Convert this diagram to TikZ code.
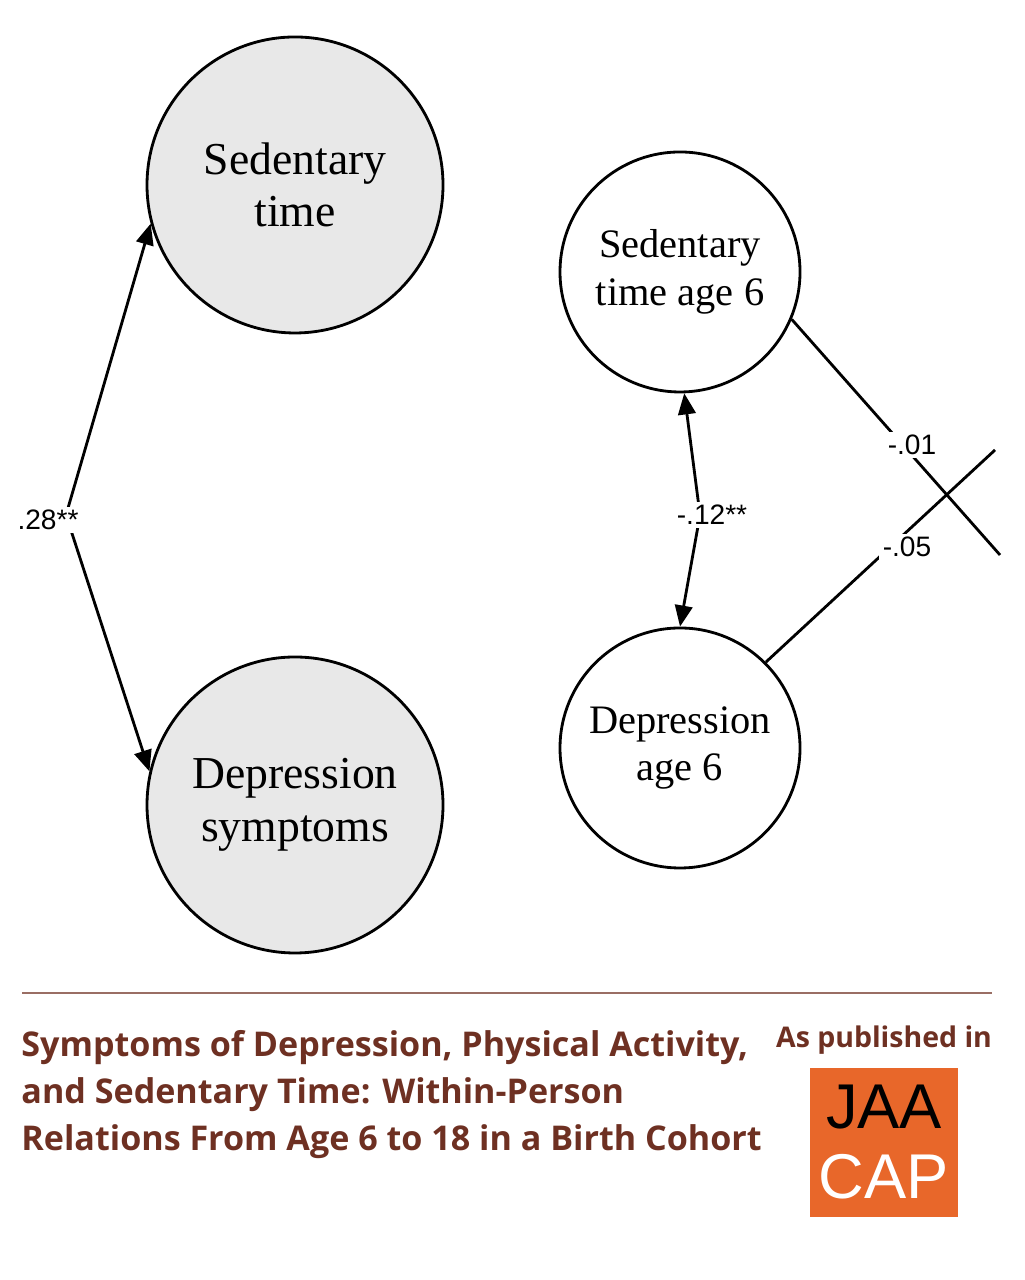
\documentclass[tikz,border=0pt]{standalone}
\usepackage{fontspec}
\setmainfont{Liberation Serif}
\newfontfamily\labfont{Liberation Sans}
\newfontfamily\capfont{Open Sans}
\usetikzlibrary{arrows.meta}
\definecolor{brownish}{HTML}{6E3022}
\definecolor{jorange}{HTML}{E8672A}
\tikzset{
  bigvar/.style={circle,draw,thick,fill=gray!18,minimum size=2.96cm,align=center,font=\fontsize{13}{15}\selectfont},
  smallvar/.style={circle,draw,thick,fill=white,minimum size=2.4cm,align=center,font=\fontsize{11.5}{13.5}\selectfont},
  coef/.style={font=\labfont\fontsize{8}{9}\selectfont,fill=white,inner sep=1pt},
  path/.style={thick,-{Triangle[length=6pt,width=5pt]}}
}
\begin{document}
\begin{tikzpicture}
    \useasboundingbox (0,0) rectangle (10.24,12.8);
    % Variables
    \node[bigvar] (sed) at (2.95,10.95) {Sedentary\\time};
    \node[bigvar] (dep) at (2.95,4.75) {Depression\\symptoms};
    \node[smallvar] (sed6) at (6.8,10.08) {Sedentary\\time age 6};
    \node[smallvar] (dep6) at (6.8,5.32) {Depression\\age 6};
    \coordinate (bend) at (0.66,7.65);
    \coordinate (mid) at (7.0,7.65);
    \coordinate (endA) at (10.0,7.25);
    \coordinate (endB) at (9.95,8.3);

    % Correlations
    \draw[path] (bend) -- (sed.195);
    \draw[path] (bend) -- (dep.167);
    \node[coef] at (0.48,7.6) {.28**};
    \draw[path] (mid) -- (sed6.-88);
    \draw[path] (mid) -- (dep6.90);
    \node[coef] at (7.12,7.65) {-.12**};

    % Cross-lagged paths
    \draw[thick] (sed6.-23) -- (endA);
    \draw[thick] (dep6.45) -- (endB);
    \node[coef] at (9.12,8.35) {-.01};
    \node[coef] at (9.07,7.33) {-.05};

    % Caption
    \draw[brownish!70,thin] (0.22,2.87) -- (9.92,2.87);
    \node[anchor=north west,align=left,text=brownish,font=\capfont\bfseries\fontsize{9.7}{13.4}\selectfont] (title) at (0.09,2.62)
        {Symptoms of Depression, Physical Activity,\\and Sedentary Time: Within-Person\\Relations From Age 6 to 18 in a Birth Cohort};
    \node[text=brownish,font=\capfont\bfseries\fontsize{8.1}{10}\selectfont] (pub) at (8.84,2.4) {As published in};
    \fill[jorange] (8.1,0.63) rectangle (9.58,2.12);
    \node[font=\labfont\fontsize{18}{18}\selectfont] (jaa) at (8.84,1.73) {JAA};
    \node[text=white,font=\labfont\fontsize{18}{18}\selectfont] (cap) at (8.84,1.03) {CAP};
\end{tikzpicture}
\end{document}
